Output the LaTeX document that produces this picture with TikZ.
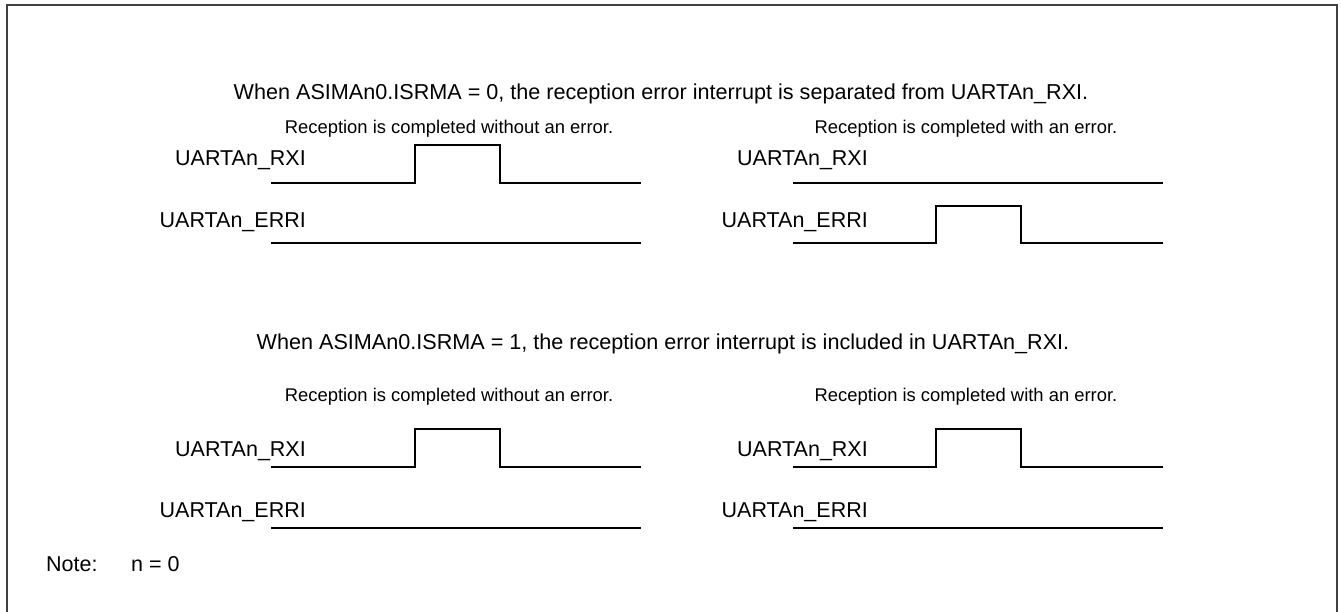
\documentclass[tikz,border=0pt]{standalone}
\usepackage{fontspec}
\setmainfont{Liberation Sans}
\usetikzlibrary{positioning}

\begin{document}
\begin{tikzpicture}[x=1pt, y=-1pt,
    ttl/.style={font=\fontsize{21.6}{24}\selectfont, inner sep=0pt, anchor=base},
    sub/.style={font=\fontsize{18.4}{21}\selectfont, inner sep=0pt, anchor=base},
    lbl/.style={font=\fontsize{21.5}{24}\selectfont, inner sep=0pt, anchor=base east},
    sig/.style={line width=2pt, line join=miter}]
    \useasboundingbox (0,0) rectangle (1341,612);

    % Frame (open at the bottom)
    \draw[line width=2.2pt, draw=black!75] (7,612) -- (7,5) -- (1337,5) -- (1337,612);

    % ISRMA = 0
    \node[ttl] (titleA) at (661,100) {When ASIMAn0.ISRMA = 0, the reception error interrupt is separated from UARTAn\_RXI.};
    \node[sub] (okA) at (449,134) {Reception is completed without an error.};
    \node[sub] (errA) at (966,134) {Reception is completed with an error.};

    \node[lbl] (rxiA) at (306,166) {UARTAn\_RXI};
    \node[lbl] (erriA) at (306,228) {UARTAn\_ERRI};
    \draw[sig] (271,183) -- (415,183) -- (415,145) -- (500,145) -- (500,183) -- (641,183);
    \draw[sig] (271,243) -- (641,243);

    \node[lbl] (rxiB) at (868,166) {UARTAn\_RXI};
    \node[lbl] (erriB) at (868,228) {UARTAn\_ERRI};
    \draw[sig] (793,183) -- (1163,183);
    \draw[sig] (793,243) -- (936,243) -- (936,206) -- (1021,206) -- (1021,243) -- (1163,243);

    % ISRMA = 1
    \node[ttl] (titleB) at (663,349) {When ASIMAn0.ISRMA = 1, the reception error interrupt is included in UARTAn\_RXI.};
    \node[sub] (okB) at (449,401) {Reception is completed without an error.};
    \node[sub] (errB) at (966,401) {Reception is completed with an error.};

    \node[lbl] (rxiC) at (306,456) {UARTAn\_RXI};
    \node[lbl] (erriC) at (306,517) {UARTAn\_ERRI};
    \draw[sig] (271,467) -- (415,467) -- (415,429) -- (500,429) -- (500,467) -- (641,467);
    \draw[sig] (271,528) -- (641,528);

    \node[lbl] (rxiD) at (868,456) {UARTAn\_RXI};
    \node[lbl] (erriD) at (868,517) {UARTAn\_ERRI};
    \draw[sig] (793,467) -- (936,467) -- (936,429) -- (1021,429) -- (1021,467) -- (1163,467);
    \draw[sig] (793,528) -- (1163,528);

    % Note
    \node[lbl, anchor=base west] (note) at (46,571) {Note:};
    \node[lbl, anchor=base west] (noteval) at (131,571) {n = 0};
\end{tikzpicture}
\end{document}
